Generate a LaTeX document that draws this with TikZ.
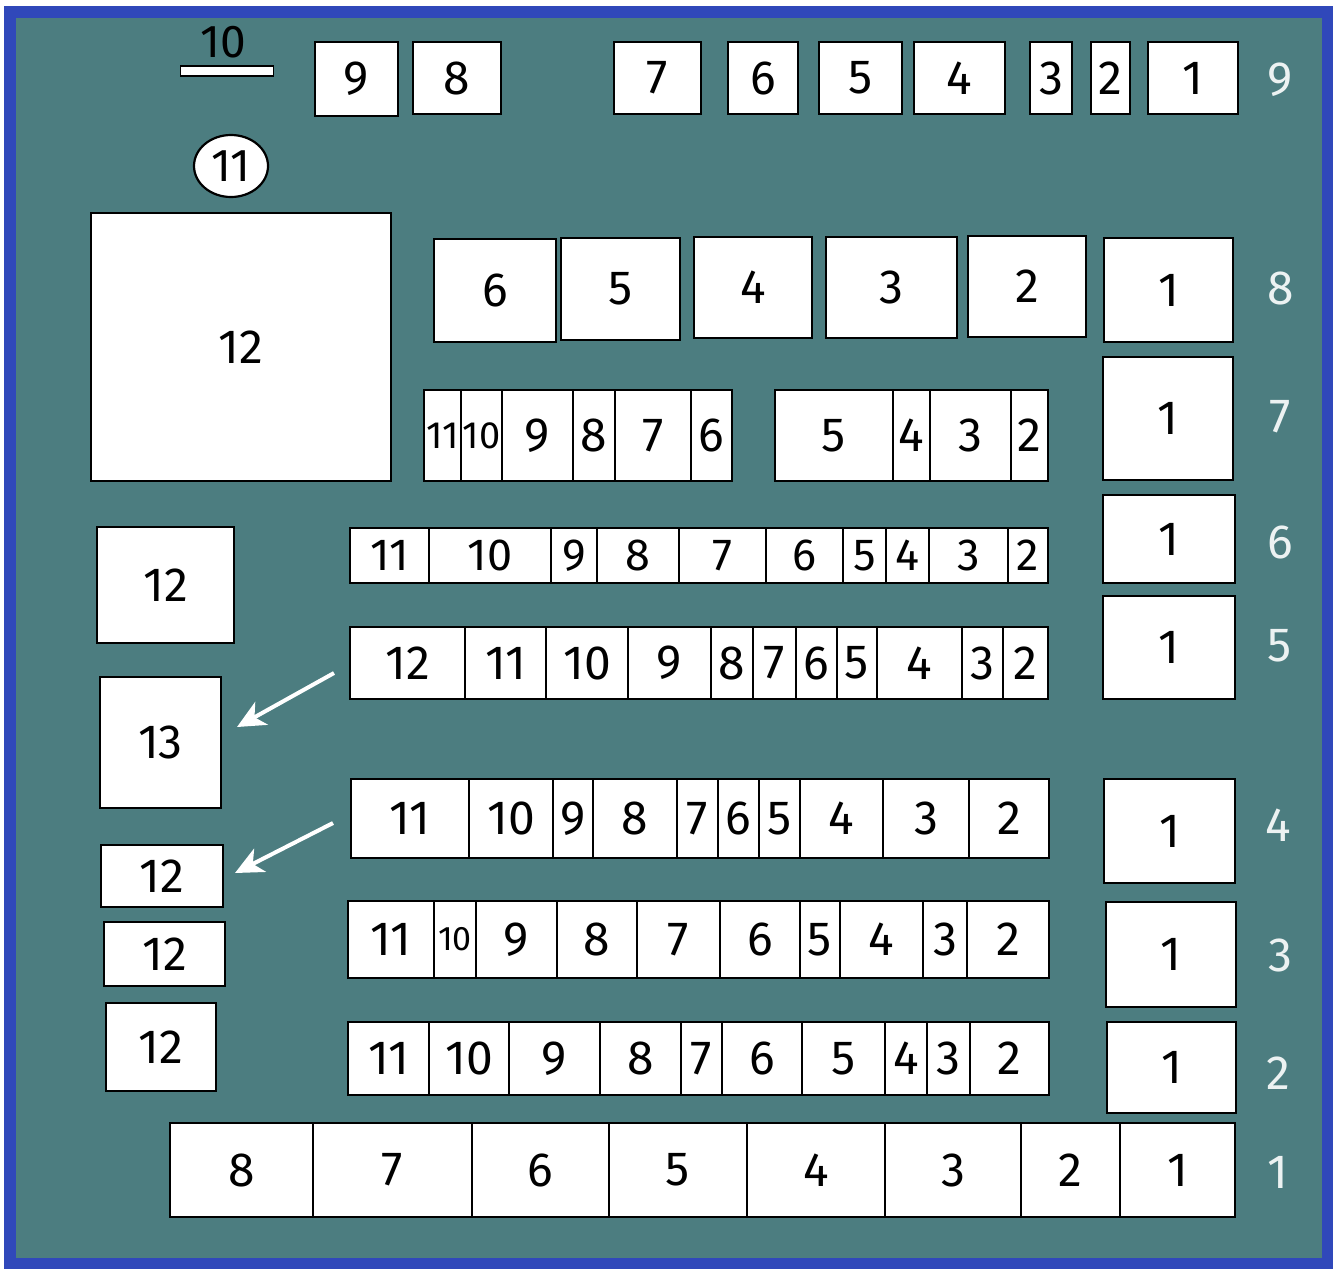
\documentclass[tikz,border=0pt]{standalone}
\usepackage{fontspec}
\setmainfont{Fira Sans}
\usetikzlibrary{arrows.meta,shapes.geometric}
\definecolor{teal0}{RGB}{76,125,128}
\definecolor{frameblue}{RGB}{48,72,186}
\definecolor{labwhite}{RGB}{236,242,242}
\tikzset{
 cell/.style={draw=black, fill=white, line width=2.2pt, inner sep=0pt, outer sep=0pt, anchor=north west, text=black},
 rowlab/.style={text=labwhite, inner sep=0pt, font=\fontsize{48}{48}\selectfont},
 pointer/.style={draw=white, line width=4pt, -{Stealth[length=28pt,width=26pt,inset=8pt]}}
}
\newcommand\cellbox[7]{%
 \node[cell, minimum width={(#4-#2)*1pt}, minimum height={(#5-#3)*1pt}, font=\fontsize{#6}{#6}\selectfont] (#1) at (#2,#3) {#7};}
\newcommand\cellrow[4]{%
 \foreach \a/\b/\l/\s in {#4} {\cellbox{#1-\l}{\a}{#2}{\b}{#3}{\s}{\l}}}
\begin{document}
\begin{tikzpicture}[x=1pt,y=-1pt]
\useasboundingbox (0,0) rectangle (1338,1269);
\fill[white] (0,0) rectangle (1338,1269);
\fill[frameblue] (4,6) rectangle (1333,1269);
\fill[teal0] (16,18) rectangle (1322,1258);

% top area
\node[inner sep=0pt, font=\fontsize{46}{46}\selectfont] (t10) at (223,42) {10};
\node[draw=black, fill=white, line width=1.8pt, minimum width=93pt, minimum height=10pt, inner sep=0pt] (bar10) at (227,71) {};
\node[draw=black, fill=white, ellipse, line width=2.2pt, minimum width=74pt, minimum height=62pt, inner sep=0pt, font=\fontsize{46}{46}\selectfont] (c11) at (231,166) {11};

% row 9
\cellbox{r9-9}{315}{42}{398}{116}{48}{9}
\cellbox{r9-8}{413}{42}{501}{114}{48}{8}
\cellbox{r9-7}{614}{42}{701}{114}{48}{7}
\cellbox{r9-6}{728}{42}{798}{114}{48}{6}
\cellbox{r9-5}{819}{42}{902}{114}{48}{5}
\cellbox{r9-4}{914}{42}{1005}{114}{48}{4}
\cellbox{r9-3}{1030}{42}{1072}{114}{48}{3}
\cellbox{r9-2}{1091}{42}{1130}{114}{48}{2}
\cellbox{r9-1}{1148}{42}{1238}{114}{48}{1}

% big 12
\cellbox{big12}{91}{213}{391}{481}{48}{12}

% row 8
\cellbox{r8-6}{434}{239}{556}{342}{48}{6}
\cellbox{r8-5}{561}{238}{680}{340}{48}{5}
\cellbox{r8-4}{694}{237}{812}{338}{48}{4}
\cellbox{r8-3}{826}{237}{957}{338}{48}{3}
\cellbox{r8-2}{968}{236}{1086}{337}{48}{2}
\cellbox{r8-1}{1104}{238}{1233}{342}{48}{1}

% row 7
\cellrow{r7}{390}{481}{424/461/11/38, 461/502/10/38, 502/573/9/48, 573/615/8/48, 615/691/7/48, 691/732/6/48, 775/893/5/48, 893/930/4/48, 930/1011/3/48, 1011/1048/2/48}
\cellbox{r7-1}{1103}{357}{1233}{480}{48}{1}

% row 6
\cellrow{r6}{528}{583}{350/429/11/45, 429/551/10/45, 551/597/9/45, 597/679/8/45, 679/766/7/45, 766/843/6/45, 843/886/5/45, 886/929/4/45, 929/1008/3/45, 1008/1048/2/45}
\cellbox{r6-1}{1103}{495}{1235}{583}{48}{1}

% row 5
\cellrow{r5}{627}{699}{350/465/12/48, 465/546/11/48, 546/628/10/48, 628/711/9/48, 711/753/8/48, 753/796/7/48, 796/837/6/48, 837/877/5/48, 877/962/4/48, 962/1003/3/48, 1003/1048/2/48}
\cellbox{r5-1}{1103}{596}{1235}{699}{48}{1}

% row 4
\cellrow{r4}{779}{858}{351/469/11/48, 469/553/10/48, 553/593/9/48, 593/677/8/48, 677/718/7/48, 718/759/6/48, 759/800/5/48, 800/883/4/48, 883/969/3/48, 969/1049/2/48}
\cellbox{r4-1}{1104}{779}{1235}{883}{48}{1}

% row 3
\cellrow{r3}{901}{978}{348/434/11/48, 434/476/10/34, 476/557/9/48, 557/637/8/48, 637/720/7/48, 720/800/6/48, 800/840/5/48, 840/923/4/48, 923/967/3/48, 967/1049/2/48}
\cellbox{r3-1}{1106}{902}{1236}{1007}{48}{1}

% row 2
\cellrow{r2}{1022}{1095}{348/429/11/48, 429/509/10/48, 509/600/9/48, 600/681/8/48, 681/722/7/48, 722/802/6/48, 802/885/5/48, 885/927/4/48, 927/970/3/48, 970/1049/2/48}
\cellbox{r2-1}{1107}{1022}{1236}{1113}{48}{1}

% row 1
\cellrow{r1}{1123}{1217}{170/313/8/48, 313/472/7/48, 472/609/6/48, 609/747/5/48, 747/885/4/48, 885/1021/3/48, 1021/1120/2/48, 1120/1235/1/48}

% left column
\cellbox{l12a}{97}{527}{234}{643}{48}{12}
\cellbox{l13}{100}{677}{221}{808}{48}{13}
\cellbox{l12b}{101}{845}{223}{907}{48}{12}
\cellbox{l12c}{104}{922}{225}{986}{48}{12}
\cellbox{l12d}{106}{1003}{216}{1091}{48}{12}

% arrows
\coordinate (p1s) at (334,673);
\coordinate (p1t) at (237,727);
\draw[pointer] (p1s) -- (p1t);
\coordinate (p2s) at (333,823);
\coordinate (p2t) at (235,873);
\draw[pointer] (p2s) -- (p2t);

% row labels
\node[rowlab] (lab9) at (1280,80) {9};
\node[rowlab] (lab8) at (1281,288) {8};
\node[rowlab] (lab7) at (1280,417) {7};
\node[rowlab] (lab6) at (1280,542) {6};
\node[rowlab] (lab5) at (1280,646) {5};
\node[rowlab] (lab4) at (1278,825) {4};
\node[rowlab] (lab3) at (1280,955) {3};
\node[rowlab] (lab2) at (1278,1073) {2};
\node[rowlab] (lab1) at (1278,1172) {1};
\end{tikzpicture}
\end{document}
